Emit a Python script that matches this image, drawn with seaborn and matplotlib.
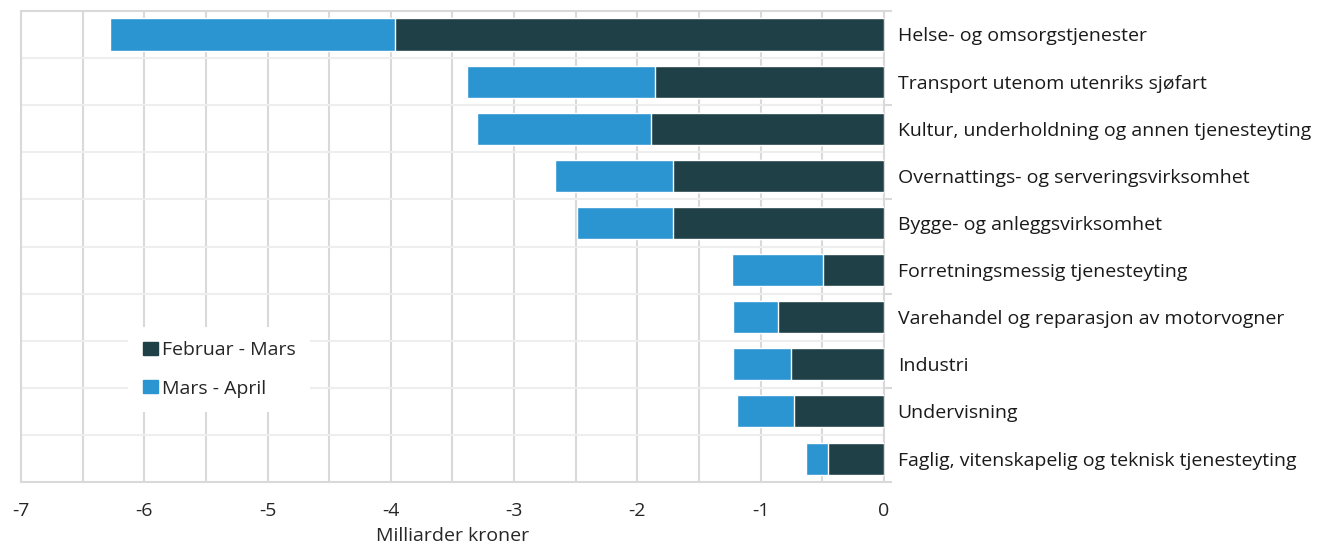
import matplotlib
matplotlib.use('Agg')
import matplotlib.pyplot as plt
from matplotlib.patches import Patch
from matplotlib.ticker import MultipleLocator, FixedLocator
import seaborn as sns
import numpy as np

naeringer = ['Helse- og omsorgstjenester',
             'Transport utenom utenriks sjøfart',
             'Kultur, underholdning og annen tjenesteyting',
             'Overnattings- og serveringsvirksomhet',
             'Bygge- og anleggsvirksomhet',
             'Forretningsmessig tjenesteyting',
             'Varehandel og reparasjon av motorvogner',
             'Industri',
             'Undervisning',
             'Faglig, vitenskapelig og teknisk tjenesteyting']
feb_mars = [-3.97, -1.86, -1.89, -1.71, -1.71, -0.49, -0.86, -0.75, -0.73, -0.45]
mars_april = [-2.31, -1.52, -1.41, -0.96, -0.78, -0.74, -0.36, -0.47, -0.46, -0.18]

dark = '#1E4046'
blue = '#2B95D1'
grid_c = '#D9D9D9'
fs = 14

sns.set_style('white')
plt.rcParams['font.family'] = ['Open Sans', 'DejaVu Sans']
plt.rcParams['font.size'] = fs

fig, ax = plt.subplots(figsize=(13.23, 5.46), dpi=100)
fig.subplots_adjust(left=0.016, right=0.668, top=0.98, bottom=0.117)

# light bar = sum of both periods, dark bar drawn on top
total = np.array(feb_mars) + np.array(mars_april)
sns.barplot(x=total, y=naeringer, color=blue, width=0.68, saturation=1, ax=ax, zorder=3)
sns.barplot(x=feb_mars, y=naeringer, color=dark, width=0.68, saturation=1, ax=ax, zorder=4)

ax.set_xlim(-7, 0)
ax.set_ylim(len(naeringer) - 0.5, -0.5)
ax.xaxis.set_major_locator(MultipleLocator(1))
ax.xaxis.set_minor_locator(MultipleLocator(0.5))
ax.grid(axis='x', which='both', color=grid_c, lw=1.5, zorder=0)
for b in np.arange(0.5, len(naeringer) - 0.5, 1):
    ax.axhline(b, color='#EEEEEE', lw=1.5, zorder=1)

ax.yaxis.tick_right()
ax.tick_params(axis='y', which='major', length=0, pad=10, labelsize=fs, labelcolor='#1a1a1a')
ax.yaxis.set_minor_locator(FixedLocator(np.arange(-0.5, len(naeringer), 2)))
ax.tick_params(axis='y', which='minor', length=6, width=1.5, color=grid_c)
ax.tick_params(axis='x', which='both', length=0, pad=14, labelsize=fs)
ax.set_xticks(range(-7, 1))
ax.set_xticklabels([str(v) for v in range(-7, 1)])

for s in ax.spines.values():
    s.set_visible(True)
    s.set_color(grid_c)
    s.set_linewidth(1.5)

ax.set_xlabel('Milliarder kroner', fontsize=fs, labelpad=5)
ax.set_ylabel('')

handles = [Patch(color=dark, label='Februar - Mars'), Patch(color=blue, label='Mars - April')]
leg = ax.legend(handles=handles, loc='upper left', bbox_to_anchor=(0.124, 0.33),
                frameon=True, facecolor='white', edgecolor='none', framealpha=1,
                fontsize=fs, labelspacing=1.05, handlelength=0.77, handleheight=0.67,
                handletextpad=0.2, borderpad=0.75, borderaxespad=0, fancybox=False)
leg.set_zorder(5)

fig.savefig('out.png', dpi=100)
